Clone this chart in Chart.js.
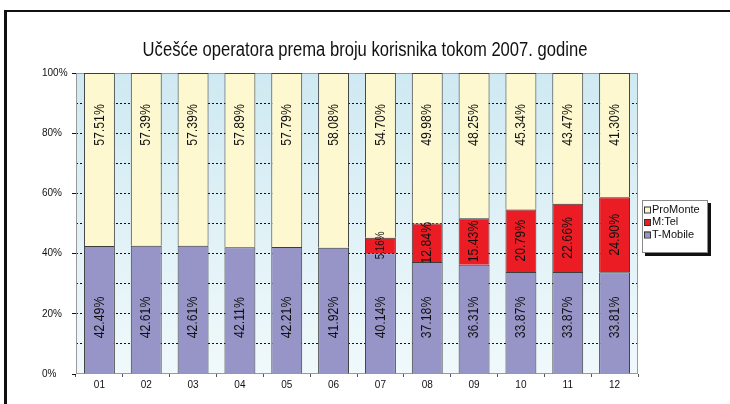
<!DOCTYPE html>
<html>
<head>
<meta charset="utf-8">
<script src="https://cdn.jsdelivr.net/npm/chart.js@4.4.0/dist/chart.umd.min.js"></script>
<style>
  html, body { margin: 0; padding: 0; background: #fff; }
  #wrap { width: 730px; height: 404px; }
</style>
</head>
<body>
<div id="wrap"><canvas id="c" width="730" height="404"></canvas></div>
<script>
// data
const months = ['01', '02', '03', '04', '05', '06', '07', '08', '09', '10', '11', '12'];
const tMobile = [42.49, 42.61, 42.61, 42.11, 42.21, 41.92, 40.14, 37.18, 36.31, 33.87, 33.87, 33.81];
const mTel = [null, null, null, null, null, null, 5.16, 12.84, 15.43, 20.79, 22.66, 24.90];
const proMonte = [57.51, 57.39, 57.39, 57.89, 57.79, 58.08, 54.70, 49.98, 48.25, 45.34, 43.47, 41.30];
const seriesNames = ['T-Mobile', 'M:Tel', 'ProMonte'];
const titleText = 'Učešće operatora prema broju korisnika tokom 2007. godine';

const SANS = '"Liberation Sans", Arial, sans-serif';
const SQUEEZE = 0.82; // no narrow face installed, so squeeze the regular one

// white page, black frame, blue gradient behind the bars, title
const backdrop = {
  id: 'backdrop',
  beforeDraw(chart) {
    const { ctx, chartArea: a } = chart;
    ctx.save();
    ctx.fillStyle = '#fff';
    ctx.fillRect(0, 0, chart.width, chart.height);
    ctx.fillStyle = '#111';
    ctx.fillRect(4, 10, 3, chart.height - 10);
    ctx.fillRect(4, 10, chart.width - 4, 2);
    const g = ctx.createLinearGradient(0, a.top, 0, a.bottom);
    g.addColorStop(0, '#cfe9f2');
    g.addColorStop(1, '#f0f9fb');
    ctx.fillStyle = g;
    ctx.fillRect(a.left, a.top, a.right - a.left, a.bottom - a.top);
    ctx.translate(365, 50);
    ctx.scale(0.83, 1);
    ctx.fillStyle = '#111';
    ctx.font = '20px ' + SANS;
    ctx.textAlign = 'center';
    ctx.textBaseline = 'middle';
    ctx.fillText(titleText, 0, 0);
    ctx.restore();
  },
  beforeDatasetsDraw(chart) {
    const { ctx, chartArea: a } = chart;
    ctx.save();
    ctx.strokeStyle = '#9a9a9a';
    ctx.lineWidth = 1;
    ctx.strokeRect(a.left + 0.5, a.top + 0.5, a.right - a.left - 1, a.bottom - a.top - 1);
    ctx.restore();
  }
};

// vertical value labels inside the segments
const segLabels = {
  id: 'segLabels',
  afterDatasetsDraw(chart, args, opts) {
    const { ctx } = chart;
    chart.data.datasets.forEach((ds, i) => {
      const meta = chart.getDatasetMeta(i);
      const anchor = opts.anchors[i];
      meta.data.forEach((bar, j) => {
        const v = ds.data[j];
        if (v == null) return;
        const top = Math.min(bar.y, bar.base);
        const bottom = Math.max(bar.y, bar.base);
        let cy = (top + bottom) / 2;
        if (anchor === 'end') cy = top + 52;
        if (anchor === 'start') cy = bottom - 56;
        const size = (bottom - top) < 30 ? 12 : 15;
        ctx.save();
        ctx.translate(bar.x, cy);
        ctx.rotate(-Math.PI / 2);
        ctx.scale(SQUEEZE, 1);
        ctx.font = size + 'px ' + SANS;
        ctx.fillStyle = '#111';
        ctx.textAlign = 'center';
        ctx.textBaseline = 'middle';
        ctx.fillText(v.toFixed(2) + '%', 0, 0);
        ctx.restore();
      });
    });
  }
};

// boxed legend with a drop shadow, top series first
const boxLegend = {
  id: 'boxLegend',
  afterDraw(chart, args, opts) {
    const { ctx } = chart;
    const { x, y, w, h } = opts;
    ctx.save();
    ctx.fillStyle = '#111';
    ctx.fillRect(x + 3, y + 3, w, h);
    ctx.fillStyle = '#fff';
    ctx.fillRect(x, y, w, h);
    ctx.strokeStyle = '#8a8a8a';
    ctx.lineWidth = 1;
    ctx.strokeRect(x + 0.5, y + 0.5, w - 1, h - 1);
    const items = chart.data.datasets.slice().reverse();
    items.forEach((ds, k) => {
      const cy = y + 9.5 + k * 12.5;
      ctx.fillStyle = ds.backgroundColor;
      ctx.fillRect(x + 2, cy - 3, 6, 6);
      ctx.strokeStyle = '#333';
      ctx.strokeRect(x + 2.5, cy - 2.5, 6, 6);
      ctx.fillStyle = '#111';
      ctx.font = '11px ' + SANS;
      ctx.textAlign = 'left';
      ctx.textBaseline = 'middle';
      ctx.fillText(ds.label, x + 10, cy);
    });
    ctx.restore();
  }
};

const barStyle = { borderColor: '#3c3c3c', borderWidth: 1, barPercentage: 0.66, categoryPercentage: 1 };

new Chart(document.getElementById('c'), {
  type: 'bar',
  data: {
    labels: months,
    datasets: [
      Object.assign({ label: seriesNames[0], data: tMobile, backgroundColor: '#9794c7' }, barStyle),
      Object.assign({ label: seriesNames[1], data: mTel, backgroundColor: '#ec1c24' }, barStyle),
      Object.assign({ label: seriesNames[2], data: proMonte, backgroundColor: '#fdf8cf' }, barStyle)
    ]
  },
  options: {
    responsive: false,
    animation: false,
    layout: { padding: { left: 42, right: 92, top: 73, bottom: 16 } },
    plugins: {
      legend: { display: false },
      title: { display: false },
      tooltip: { enabled: false },
      segLabels: { anchors: ['start', 'center', 'end'] },
      boxLegend: { x: 642, y: 200, w: 66, h: 53 }
    },
    scales: {
      x: {
        stacked: true,
        afterFit(scale) { scale.height = 14; },
        grid: { offset: true, drawOnChartArea: false, tickLength: 3, color: '#555' },
        border: { display: false },
        ticks: { color: '#111', padding: 2, font: { family: SANS, size: 10 } }
      },
      y: {
        stacked: true,
        min: 0,
        max: 100,
        afterFit(scale) { scale.width = 34; },
        grid: {
          color: (c) => (c.tick.value === 0 || c.tick.value === 100) ? 'rgba(0,0,0,0)' : '#111',
          tickColor: (c) => c.tick.value % 20 === 0 ? '#111' : 'rgba(0,0,0,0)',
          tickLength: 4
        },
        border: { display: false, dash: [2, 2] },
        ticks: {
          stepSize: 10,
          crossAlign: 'far',
          color: '#111',
          font: { family: SANS, size: 10 },
          callback: (v) => v % 20 === 0 ? v + '%' : ''
        }
      }
    }
  },
  plugins: [backdrop, segLabels, boxLegend]
});
</script>
</body>
</html>
